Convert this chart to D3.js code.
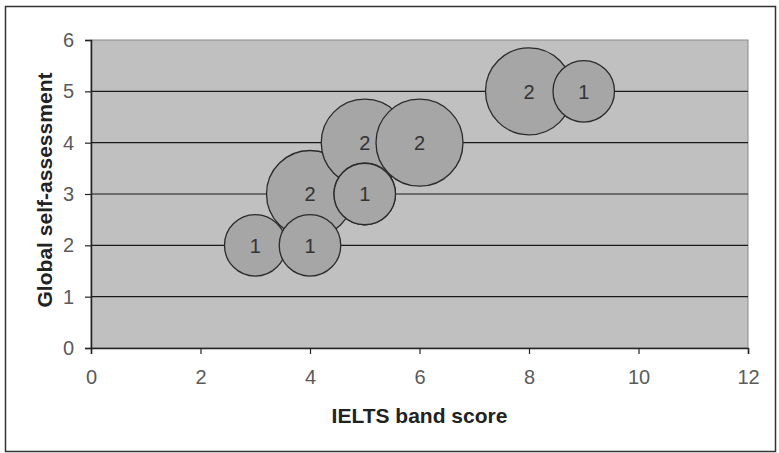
<!DOCTYPE html>
<html>
<head>
<meta charset="utf-8">
<script src="https://cdn.jsdelivr.net/npm/d3@7"></script>
<style>
  body { margin: 0; background: #fff; }
  svg text { font-family: "Liberation Sans", Arial, sans-serif; }
</style>
</head>
<body>
<div id="chart"></div>
<script>
// bubble data (IELTS band, self-assessment, count)
const ieltsBand = [3, 4, 4, 5, 5, 5, 6, 8, 9];
const selfAssess = [2, 2, 3, 3, 3, 4, 4, 5, 5];
const counts = [1, 1, 2, 1, 1, 2, 2, 2, 1];
const xTicks = [0, 2, 4, 6, 8, 10, 12];
const yTicks = [0, 1, 2, 3, 4, 5, 6];

const W = 779, H = 453;
const plotLeft = 91, plotRight = 748, plotTop = 40, plotBottom = 348;

const svg = d3.select("#chart").append("svg")
  .attr("width", W).attr("height", H);

// outer frame
svg.append("rect")
  .attr("x", 5.5).attr("y", 6.5)
  .attr("width", 770).attr("height", 445)
  .attr("fill", "#fff").attr("stroke", "#333").attr("stroke-width", 1.5);

var x = d3.scaleLinear().domain([0, 12]).range([plotLeft, plotRight]);
var y = d3.scaleLinear().domain([0, 6]).range([plotBottom, plotTop]);
var r = d3.scaleSqrt().domain([0, 2]).range([0, 43.5]);

// plot area
svg.append("rect")
  .attr("x", plotLeft).attr("y", plotTop)
  .attr("width", plotRight - plotLeft).attr("height", plotBottom - plotTop)
  .attr("fill", "#c0c0c0").attr("stroke", "#8a8a8a").attr("stroke-width", 1);

// gridlines
svg.append("g").selectAll("line")
  .data(yTicks.filter(d => d > 0 && d < 6))
  .enter().append("line")
  .attr("x1", plotLeft).attr("x2", plotRight)
  .attr("y1", d => y(d)).attr("y2", d => y(d))
  .attr("stroke", "#1a1a1a").attr("stroke-width", 1.2);

var yAxis = d3.axisLeft(y).tickValues(yTicks).tickFormat(d3.format("d")).tickSize(6).tickPadding(11);
var xAxis = d3.axisBottom(x).tickValues(xTicks).tickFormat(d3.format("d")).tickSize(6).tickPadding(16);

var gy = svg.append("g").attr("transform", "translate(" + plotLeft + ",0)").call(yAxis);
var gx = svg.append("g").attr("transform", "translate(0," + plotBottom + ")").call(xAxis);

[gx, gy].forEach(function(g) {
  g.select(".domain").attr("stroke", "#222").attr("stroke-width", 1.5);
  g.selectAll(".tick line").attr("stroke", "#222").attr("stroke-width", 1.2);
  g.selectAll(".tick text").attr("fill", "#5a5a5a").style("font-size", "20px");
});

// bubbles: biggest first so small ones sit on top
var pts = ieltsBand.map((d, i) => ({x: d, y: selfAssess[i], n: counts[i], i: i}));
pts.sort((a, b) => b.n - a.n || a.i - b.i);

var bub = svg.append("g").selectAll("g")
  .data(pts)
  .enter().append("g");

bub.append("circle")
  .attr("cx", d => x(d.x))
  .attr("cy", d => y(d.y))
  .attr("r", d => r(d.n))
  .attr("fill", "#a6a6a6")
  .attr("stroke", "#2a2a2a")
  .attr("stroke-width", 1.3);

bub.append("text")
  .attr("x", d => x(d.x))
  .attr("y", d => y(d.y))
  .attr("dy", "0.36em")
  .attr("text-anchor", "middle")
  .attr("fill", "#333")
  .style("font-size", "20px")
  .text(d => d.n);

// axis titles
svg.append("text")
  .attr("x", (plotLeft + plotRight) / 2)
  .attr("y", 423)
  .attr("text-anchor", "middle")
  .attr("fill", "#222")
  .style("font-size", "21px").style("font-weight", "bold")
  .text("IELTS band score");

svg.append("text")
  .attr("transform", "translate(52,190) rotate(-90)")
  .attr("text-anchor", "middle")
  .attr("fill", "#222")
  .attr("textLength", 235)
  .attr("lengthAdjust", "spacingAndGlyphs")
  .style("font-size", "21px").style("font-weight", "bold")
  .text("Global self-assessment");
</script>
</body>
</html>
